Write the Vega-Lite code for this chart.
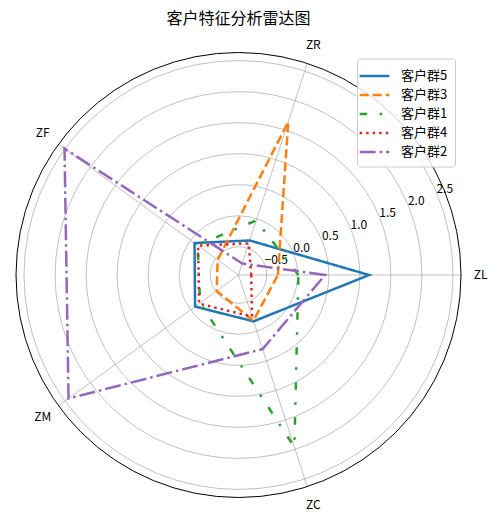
{
  "$schema": "https://vega.github.io/schema/vega-lite/v6.json",
  "width": 445,
  "height": 445,
  "autosize": {"type": "none"},
  "padding": {"left": 16, "top": 52.5, "right": 35, "bottom": 22.5},
  "background": "white",
  "title": {"text": "客户特征分析雷达图", "font": "Noto Sans CJK SC", "fontSize": 16, "fontWeight": "normal", "color": "#000000", "anchor": "middle", "offset": 12},
  "config": {"view": {"stroke": null}, "font": "Noto Sans CJK SC"},
  "datasets": {
    "series": [
      {"group": "客户群5", "axis": "ZL", "v": 1.15},
      {"group": "客户群5", "axis": "ZR", "v": -0.37},
      {"group": "客户群5", "axis": "ZF", "v": -0.08},
      {"group": "客户群5", "axis": "ZM", "v": -0.09},
      {"group": "客户群5", "axis": "ZC", "v": -0.17},
      {"group": "客户群3", "axis": "ZL", "v": -0.32},
      {"group": "客户群3", "axis": "ZR", "v": 1.64},
      {"group": "客户群3", "axis": "ZF", "v": -0.54},
      {"group": "客户群3", "axis": "ZM", "v": -0.52},
      {"group": "客户群3", "axis": "ZC", "v": -0.18},
      {"group": "客户群1", "axis": "ZL", "v": 0.01},
      {"group": "客户群1", "axis": "ZR", "v": -0.03},
      {"group": "客户群1", "axis": "ZF", "v": -0.14},
      {"group": "客户群1", "axis": "ZM", "v": -0.19},
      {"group": "客户群1", "axis": "ZC", "v": 1.96},
      {"group": "客户群4", "axis": "ZL", "v": -0.75},
      {"group": "客户群4", "axis": "ZR", "v": -0.42},
      {"group": "客户群4", "axis": "ZF", "v": -0.15},
      {"group": "客户群4", "axis": "ZM", "v": -0.17},
      {"group": "客户群4", "axis": "ZC", "v": -0.25},
      {"group": "客户群2", "axis": "ZL", "v": 0.44},
      {"group": "客户群2", "axis": "ZR", "v": -0.76},
      {"group": "客户群2", "axis": "ZF", "v": 2.51},
      {"group": "客户群2", "axis": "ZM", "v": 2.43},
      {"group": "客户群2", "axis": "ZC", "v": 0.30}
    ],
    "rings": [
      {"v": -0.5}, {"v": 0.0}, {"v": 0.5}, {"v": 1.0}, {"v": 1.5}, {"v": 2.0}, {"v": 2.5}
    ],
    "axes": [
      {"axis": "ZL"}, {"axis": "ZR"}, {"axis": "ZF"}, {"axis": "ZM"}, {"axis": "ZC"}
    ]
  },
  "layer": [
    {
      "data": {"name": "rings"},
      "mark": {"type": "arc", "theta": 0, "theta2": 6.2832, "filled": false, "stroke": "#b0b0b0", "strokeWidth": 0.8},
      "encoding": {
        "radius": {"field": "v", "type": "quantitative", "stack": null, "scale": {"type": "linear", "domain": [-0.955, 2.63], "range": [0, 222.5], "zero": false, "nice": false}},
        "radius2": {"datum": -0.955}
      }
    },
    {
      "data": {"name": "axes"},
      "transform": [
        {"calculate": "indexof(['ZL','ZR','ZF','ZM','ZC'], datum.axis) * 2 * PI / 5", "as": "a"},
        {"calculate": "0", "as": "o"},
        {"calculate": "3.585 * cos(datum.a)", "as": "ex"},
        {"calculate": "3.585 * sin(datum.a)", "as": "ey"}
      ],
      "mark": {"type": "rule", "stroke": "#b0b0b0", "strokeWidth": 0.8},
      "encoding": {
        "x": {"field": "o", "type": "quantitative", "scale": {"domain": [-3.585, 3.585], "nice": false, "zero": false}, "axis": null},
        "y": {"field": "o", "type": "quantitative", "scale": {"domain": [-3.585, 3.585], "nice": false, "zero": false}, "axis": null},
        "x2": {"field": "ex"},
        "y2": {"field": "ey"}
      }
    },
    {
      "data": {"values": [{}]},
      "mark": {"type": "arc", "theta": 0, "theta2": 6.2832, "radius": {"expr": "width / 2"}, "radius2": 0, "filled": false, "stroke": "#000000", "strokeWidth": 1},
      "encoding": {}
    },
    {
      "data": {"name": "rings"},
      "transform": [
        {"calculate": "(datum.v + 0.955) * cos(PI / 8)", "as": "lx"},
        {"calculate": "(datum.v + 0.955) * sin(PI / 8)", "as": "ly"}
      ],
      "mark": {"type": "text", "align": "left", "baseline": "alphabetic", "fontSize": 12, "color": "#000000", "font": "Noto Sans CJK SC"},
      "encoding": {
        "x": {"field": "lx", "type": "quantitative"},
        "y": {"field": "ly", "type": "quantitative"},
        "text": {"field": "v", "type": "quantitative", "format": ".1f"}
      }
    },
    {
      "data": {"name": "axes"},
      "transform": [
        {"calculate": "indexof(['ZL','ZR','ZF','ZM','ZC'], datum.axis) * 2 * PI / 5", "as": "a"},
        {"calculate": "3.9 * cos(datum.a)", "as": "tx"},
        {"calculate": "3.9 * sin(datum.a)", "as": "ty"}
      ],
      "mark": {"type": "text", "align": "center", "baseline": "middle", "fontSize": 12, "color": "#000000", "font": "Noto Sans CJK SC"},
      "encoding": {
        "x": {"field": "tx", "type": "quantitative"},
        "y": {"field": "ty", "type": "quantitative"},
        "text": {"field": "axis", "type": "nominal"}
      }
    },
    {
      "data": {"name": "series"},
      "transform": [
        {"calculate": "indexof(['ZL','ZR','ZF','ZM','ZC'], datum.axis)", "as": "k"},
        {"calculate": "(datum.v + 0.955) * cos(datum.k * 2 * PI / 5)", "as": "cx"},
        {"calculate": "(datum.v + 0.955) * sin(datum.k * 2 * PI / 5)", "as": "cy"}
      ],
      "mark": {"type": "line", "interpolate": "linear-closed", "strokeWidth": 2.5},
      "encoding": {
        "x": {"field": "cx", "type": "quantitative"},
        "y": {"field": "cy", "type": "quantitative"},
        "order": {"field": "k", "type": "quantitative"},
        "color": {
          "field": "group", "type": "nominal",
          "scale": {"domain": ["客户群5", "客户群3", "客户群1", "客户群4", "客户群2"], "range": ["#1f77b4", "#ff7f0e", "#2ca02c", "#d62728", "#9467bd"]},
          "legend": {"title": null, "orient": "top-right", "offset": 6, "padding": 7, "fillColor": "rgba(255,255,255,0.8)", "strokeColor": "#cccccc", "cornerRadius": 3, "symbolType": "M-1.65,0H1.65", "symbolSize": 324, "symbolStrokeWidth": 2.5, "labelFont": "Noto Sans CJK SC", "labelFontSize": 13, "labelColor": "#000000", "rowPadding": 1, "labelOffset": 16}
        },
        "strokeDash": {
          "field": "group", "type": "nominal",
          "scale": {"domain": ["客户群5", "客户群3", "客户群1", "客户群4", "客户群2"], "range": [[1, 0], [9, 4], [7.5, 12.5, 2.5, 12.5], [2.5, 4], [16, 4, 2.5, 4]]},
          "legend": {"title": null, "orient": "top-right", "offset": 6, "padding": 7, "fillColor": "rgba(255,255,255,0.8)", "strokeColor": "#cccccc", "cornerRadius": 3, "symbolType": "M-1.65,0H1.65", "symbolSize": 324, "symbolStrokeWidth": 2.5, "labelFont": "Noto Sans CJK SC", "labelFontSize": 13, "labelColor": "#000000", "rowPadding": 1, "labelOffset": 16}
        }
      }
    }
  ]
}
